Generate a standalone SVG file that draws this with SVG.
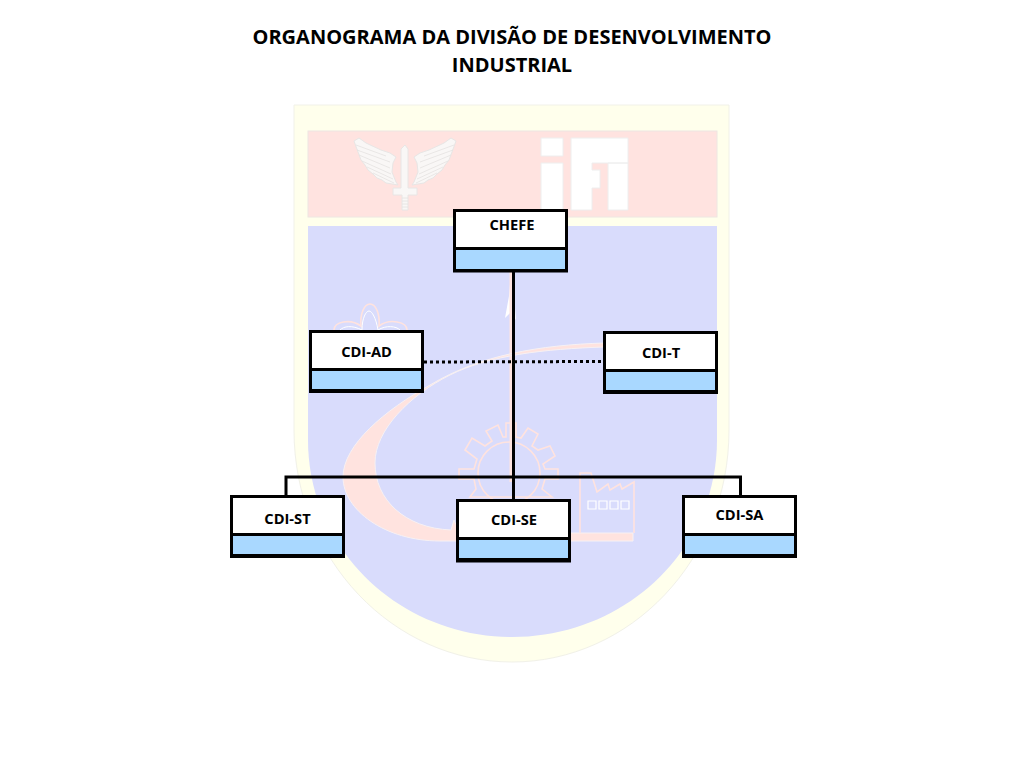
<svg xmlns="http://www.w3.org/2000/svg" width="1024" height="768" viewBox="0 0 1024 768">
<style>
text{font-family:"Open Sans","Liberation Sans",sans-serif;font-weight:700;fill:#000;text-anchor:middle}
.title{font-size:20px}
.label{font-size:14.67px}
.top{fill:#fff;stroke:#000;stroke-width:3}
.bot{fill:#a9d8ff;stroke:#000;stroke-width:3}
.base{fill:#000}
.art{fill:none;stroke:#ffe3df;stroke-width:1.6}
.wh{fill:#fff;stroke:#eeeeee;stroke-width:1}
.wing{fill:#f9f7f6;stroke:#e8e6e5;stroke-width:1}
.feather{fill:none;stroke:#e4e2e1;stroke-width:.8}
.link{fill:none;stroke:#000;stroke-width:3}
</style>
<rect width="1024" height="768" fill="#fff"/>
<g id="background">
<path d="M294 105H729V430C729 560 630 662 512 662C394 662 294 560 294 430Z" fill="#ffffec" stroke="#f1f1e8" stroke-width="1"/>
<rect x="308" y="131" width="409" height="86" fill="#ffe3e0" stroke="#eee6e2" stroke-width="1"/>
<path d="M308 226H717V440C717 550 625 637 512 637C400 637 308 550 308 440Z" fill="#d9dcfc"/>
<path d="M354 141L359 138L366 143L381 150L390 153L396 157L393 163L392 172L396 182L398 185L392 184L386 183L382 180L377 178L373 174L368 170L365 165L361 160L358 152Z" class="wing"/>
<path d="M456 141L451 138L444 143L429 150L420 153L414 157L417 163L418 172L414 182L412 185L418 184L424 183L428 180L433 178L437 174L442 170L445 165L449 160L452 152Z" class="wing"/>
<path d="M356 145L386 156M357 150L390 162M359 155L390 168M362 161L391 174M367 167L393 179M373 173L394 183M454 145L424 156M453 150L420 162M451 155L420 168M448 161L419 174M443 167L417 179M437 173L416 183" class="feather"/>
<path d="M405 145L408 149V188H417V195H408V210H402V195H393V188H401V149Z" class="wing"/>
<path d="M402 198H408M402 201H408M402 204H408M402 207H408" class="feather"/>
<path d="M541 138H563V156H541ZM541 163H563V210H541ZM571 138H628V163H592V170H600V188H592V210H571ZM608 163H628V210H608Z" class="wh"/>
<path d="M511 272L509 296L505 318L511 312L516 320L514 296L513 272Z" fill="#fff"/>
<rect x="509.500" y="272" width="4" height="210" fill="#ffe3df"/>
<path d="M334 330C334 322 350 318 361 326C360 314 364 304 370 304C376 304 380 314 379 326C390 318 407 322 407 330" class="art"/>
<path d="M340 330C344 326 352 325 362 330M362 330C362 318 366 311 369 311C372 311 376 318 378 330M378 330C386 325 396 326 400 330" fill="none" stroke="#fff" stroke-width="1"/>
<path d="M604 343C540 345 480 355 430 385C385 410 343 445 343 477C343 510 385 541 440 541H633V533H570L460 530C457 526 455 523 454 520L451 530C405 528 375 500 375 463C375 430 410 395 450 375C490 355 545 349 604 347Z" fill="#ffe3df" stroke="#f7f1f4" stroke-width="1"/>
<circle cx="509" cy="473" r="31" fill="none" stroke="#ffe3df" stroke-width="1.6"/>
<path d="M459 469H474L477 459L465 450L472 438L485 446L492 441L486 431L498 425L503 437H506V423H516V437L521 438L528 428L538 434L532 446L538 450L550 446L555 456L543 464L545 469H558V479H545L542 489L552 497H470L476 489L474 479H459Z" class="art"/>
<path d="M580 533V473H591L597 492L608 484L610 490L620 484L622 489L634 482V533" class="art"/>
<path d="M588 501h8v8h-8ZM599 501h8v8h-8ZM610 501h8v8h-8ZM621 501h8v8h-8Z" fill="none" stroke="#fff" stroke-width="1.2"/>
</g>
<g id="title">
<text class="title" x="512" y="43.500">ORGANOGRAMA DA DIVISÃO DE DESENVOLVIMENTO</text>
<text class="title" x="512" y="71.500">INDUSTRIAL</text>
</g>
<g id="connectors">
<path class="link" d="M513.500 272V499M286 495V477H740.500V495"/>
<path class="link" d="M424 362L603 361.500" stroke-dasharray="3 3"/>
</g>
<g id="node-chefe">
<rect class="top" x="454.500" y="210.500" width="112" height="38"/>
<rect class="bot" x="454.500" y="248.500" width="112" height="22"/>
<rect class="base" x="453" y="269" width="115" height="3.500"/>
<text class="label" x="512" y="230">CHEFE</text>
</g>
<g id="node-cdi-ad">
<rect class="top" x="310.500" y="331.500" width="112" height="38"/>
<rect class="bot" x="310.500" y="369.500" width="112" height="21"/>
<rect class="base" x="309" y="389" width="115" height="4"/>
<text class="label" x="366.500" y="357">CDI-AD</text>
</g>
<g id="node-cdi-t">
<rect class="top" x="604.500" y="332.500" width="112" height="38"/>
<rect class="bot" x="604.500" y="370.500" width="112" height="21"/>
<rect class="base" x="603" y="390" width="115" height="4"/>
<text class="label" x="661" y="358">CDI-T</text>
</g>
<g id="node-cdi-st">
<rect class="top" x="231.500" y="496.500" width="112" height="38"/>
<rect class="bot" x="231.500" y="534.500" width="112" height="21"/>
<rect class="base" x="230" y="555" width="115" height="3"/>
<text class="label" x="287.500" y="524">CDI-ST</text>
</g>
<g id="node-cdi-se">
<rect class="top" x="457.500" y="500.500" width="112" height="38"/>
<rect class="bot" x="457.500" y="538.500" width="112" height="21"/>
<rect class="base" x="456" y="558.500" width="115" height="4"/>
<text class="label" x="514" y="525">CDI-SE</text>
</g>
<g id="node-cdi-sa">
<rect class="top" x="683.500" y="496.500" width="112" height="38"/>
<rect class="bot" x="683.500" y="534.500" width="112" height="21"/>
<rect class="base" x="682" y="555" width="115" height="3"/>
<text class="label" x="739.500" y="520">CDI-SA</text>
</g>
</svg>
